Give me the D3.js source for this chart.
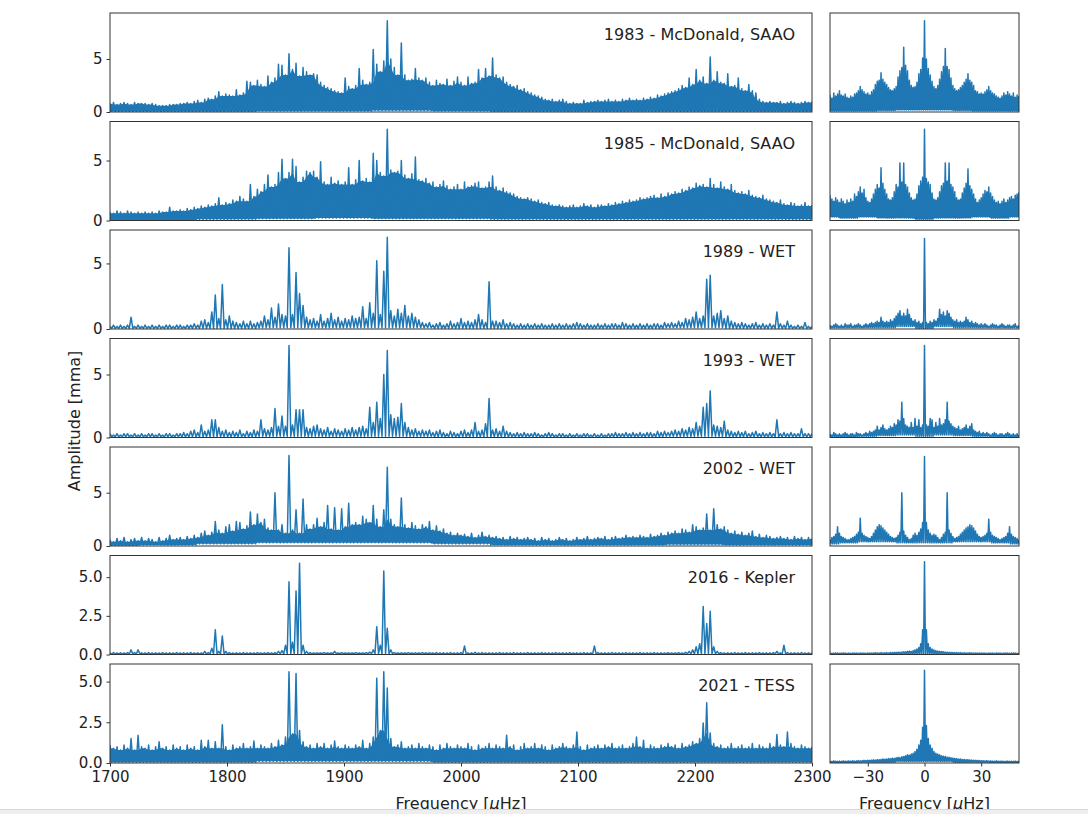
<!DOCTYPE html>
<html><head><meta charset="utf-8">
<script src="https://cdn.jsdelivr.net/npm/d3@7"></script>
<style>body{margin:0;background:#fff}svg{display:block}text{font-family:"DejaVu Sans",sans-serif}</style>
</head><body><svg id="c" width="1088" height="814"></svg>
<script>
// ---------- DATA ----------
const panelLabels = ["1983 - McDonald, SAAO","1985 - McDonald, SAAO","1989 - WET","1993 - WET","2002 - WET","2016 - Kepler","2021 - TESS"];
// left column frequency grid (µHz)
const freqStart = 1700, freqStep = 3, freqEnd = 2300;
const floorStep = 50; // lower envelope of trace given every 50 µHz
const xTicksLeft = [1700,1800,1900,2000,2100,2200,2300];
const xTicksRight = [-30,0,30];
const yTicksA = [0,5];
const yTicksB = [0,2.5,5];

const amp1983 = [
0.8,0.9,0.7,0.8,0.9,0.8,0.7,0.9,0.8,0.8, 0.8,0.7,0.8,0.7,0.6,0.6,0.6,0.7,0.7,0.7,
0.8,0.8,0.9,0.8,1.0,1.1,0.9,1.2,1.3,1.2, 1.5,1.9,1.5,1.7,1.6,1.5,2.1,1.6,1.8,2.9,
2.8,2.5,3.0,2.6,2.4,3.4,2.8,3.2,4.5,4.4, 3.5,5.5,4.0,4.6,3.4,4.2,3.8,3.5,3.6,3.5,
2.8,2.5,2.3,2.2,2.0,1.9,1.8,3.2,2.4,2.2, 2.5,4.1,3.0,2.6,2.8,5.9,4.5,3.8,4.8,8.6,
5.0,4.2,3.5,6.5,3.5,3.0,3.1,4.1,3.2,3.0, 3.2,2.8,2.5,3.0,2.7,2.6,3.1,2.5,2.9,3.3,
2.8,2.5,3.3,2.7,2.8,4.0,3.2,4.1,3.4,5.1, 3.5,3.2,3.3,2.8,2.6,2.4,2.5,2.1,2.2,1.9,
1.8,1.6,1.5,1.4,1.2,1.1,1.2,1.0,1.1,1.2, 1.0,0.8,0.9,0.8,0.8,1.1,0.9,1.0,1.0,1.1,
1.0,1.1,1.2,1.0,1.1,1.0,1.2,1.1,1.3,1.1, 1.2,1.1,1.3,1.2,1.4,1.3,1.6,1.5,1.7,1.8,
1.9,2.0,2.2,2.5,2.3,3.2,2.6,4.0,3.0,3.3, 2.7,5.2,3.0,3.8,2.8,2.7,3.6,2.4,2.5,3.2,
2.2,2.0,2.6,2.0,1.8,1.2,1.0,0.9,1.0,0.9, 0.9,1.0,0.8,0.9,1.0,0.9,0.8,0.9,1.0,0.9,
1.0];
const amp1985 = [
0.7,0.6,0.8,0.7,0.6,0.8,0.7,0.6,0.7,0.6, 0.7,0.6,0.7,0.6,0.8,0.7,0.7,1.1,0.8,0.8,
0.9,0.8,1.0,0.9,1.1,1.0,1.2,1.1,1.3,1.2, 1.4,1.9,1.3,1.5,1.4,1.7,1.6,2.0,1.8,1.6,
3.0,2.0,2.6,2.4,3.0,3.8,2.8,3.0,4.0,5.1, 3.5,4.0,5.1,4.5,3.2,3.6,4.1,4.0,4.1,3.6,
4.9,3.2,3.0,3.6,3.1,3.3,3.0,3.2,4.4,3.0, 3.4,5.0,3.3,3.5,3.2,5.6,5.0,4.0,3.7,7.6,
4.2,4.0,4.1,5.0,3.8,3.5,3.9,5.3,3.4,3.3, 3.5,3.1,3.2,2.8,3.0,3.3,2.9,2.6,2.8,3.0,
2.6,3.2,2.8,2.9,3.1,3.2,2.7,2.8,3.2,3.7, 2.8,2.5,2.7,2.4,2.3,2.2,2.0,1.9,1.8,1.9,
1.8,1.6,1.7,1.5,1.4,1.5,1.3,1.2,1.3,1.2, 1.1,1.2,1.3,1.1,1.2,1.4,1.2,1.3,1.1,1.3,
1.3,1.2,1.4,1.3,1.5,1.4,1.6,1.5,1.7,1.6, 1.7,1.9,1.8,1.9,2.0,2.1,1.9,2.2,2.0,2.3,
2.2,2.4,2.3,2.6,2.5,2.8,2.7,3.1,2.9,3.0, 2.8,3.5,3.0,2.7,3.2,2.8,2.6,3.0,2.5,2.3,
2.4,2.2,2.5,2.1,2.0,1.9,2.1,1.8,1.7,1.6, 1.5,1.7,1.4,1.3,1.5,1.4,1.2,1.3,1.5,1.2,
1.3];
const amp1989 = [
0.2,0.3,0.2,0.3,0.2,0.3,0.9,0.2,0.3,0.2, 0.3,0.2,0.3,0.2,0.3,0.2,0.3,0.3,0.2,0.3,
0.3,0.2,0.3,0.3,0.4,0.3,0.6,0.7,0.5,1.3, 2.6,0.8,3.4,0.7,1.0,0.6,0.5,0.4,0.6,0.4,
0.6,0.4,0.5,0.6,1.0,0.7,1.6,0.9,1.9,1.1, 1.0,6.2,1.1,4.3,2.7,1.8,0.9,0.7,0.8,0.6,
1.1,0.6,0.8,1.2,0.7,0.9,0.6,0.8,0.7,1.0, 0.8,0.9,1.7,0.8,2.0,1.2,5.2,1.1,4.4,7.0,
1.4,1.0,1.5,1.2,1.8,1.0,1.2,0.9,0.7,0.5, 0.4,0.5,0.3,0.4,0.5,0.3,0.4,0.6,0.4,0.5,
0.8,0.5,0.6,0.5,0.7,1.1,0.7,0.5,3.6,0.6, 0.6,0.5,0.7,0.4,0.5,0.4,0.3,0.4,0.3,0.4,
0.3,0.4,0.3,0.4,0.3,0.3,0.4,0.3,0.4,0.3, 0.4,0.3,0.4,0.5,0.4,0.3,0.4,0.3,0.3,0.4,
0.3,0.4,0.3,0.4,0.4,0.3,0.5,0.4,0.3,0.4, 0.3,0.4,0.3,0.4,0.3,0.4,0.4,0.3,0.5,0.4,
0.5,0.4,0.6,0.5,0.8,0.7,0.9,1.3,0.8,1.0, 3.8,4.1,1.0,1.2,1.4,0.8,1.0,0.6,0.5,0.4,
0.5,0.4,0.3,0.4,0.5,0.3,0.4,0.3,0.4,0.3, 1.3,0.4,0.3,0.6,0.3,0.2,0.3,0.2,0.5,0.2,
0.2];
const amp1993 = [
0.3,0.2,0.3,0.2,0.3,0.3,0.2,0.3,0.2,0.3, 0.2,0.3,0.3,0.2,0.3,0.2,0.3,0.3,0.2,0.3,
0.3,0.4,0.3,0.5,0.6,0.4,1.0,0.5,0.6,1.4, 1.4,0.8,0.5,0.6,0.4,0.5,0.4,0.6,0.3,0.5,
0.4,0.6,0.5,1.4,0.7,0.6,0.8,2.3,0.9,1.7, 0.9,7.3,1.0,2.2,2.2,2.2,0.8,0.7,0.9,1.0,
0.7,0.6,0.8,0.5,0.7,0.6,0.5,0.7,0.6,0.8, 0.6,0.8,0.9,0.7,2.4,1.2,2.8,1.5,5.0,6.9,
1.8,1.5,1.6,2.7,1.2,0.8,0.6,0.7,0.5,0.6, 0.5,0.6,0.4,0.5,0.6,0.4,0.3,0.5,0.4,0.3,
0.5,0.6,0.4,0.6,1.2,0.5,0.6,1.1,3.1,0.6, 0.7,0.5,0.9,0.5,0.4,0.3,0.4,0.3,0.4,0.3,
0.3,0.4,0.3,0.2,0.3,0.4,0.3,0.2,0.3,0.3, 0.2,0.3,0.2,0.3,0.2,0.3,0.3,0.2,0.3,0.2,
0.3,0.2,0.3,0.3,0.4,0.3,0.3,0.4,0.3,0.4, 0.3,0.4,0.3,0.4,0.4,0.3,0.5,0.4,0.5,0.4,
0.5,0.6,0.5,0.7,0.6,0.8,0.7,1.2,0.9,2.4, 2.7,3.7,1.0,0.9,0.8,1.3,0.6,0.5,0.4,0.5,
0.4,0.5,0.3,0.4,0.5,0.3,0.4,0.3,0.4,0.3, 1.4,0.3,0.4,0.3,0.4,0.3,0.3,0.7,0.3,0.3,
0.3];
const amp2002 = [
0.6,0.4,0.7,0.5,0.8,0.4,0.6,0.7,0.5,0.8, 0.5,0.7,0.6,0.4,0.8,0.5,0.7,1.0,0.6,0.7,
0.8,0.6,0.9,0.7,1.0,0.8,1.2,1.4,1.0,1.3, 2.3,1.5,1.2,1.8,2.0,1.4,2.3,2.2,1.6,1.9,
3.2,2.0,3.0,2.2,2.5,1.7,1.5,5.0,1.5,2.0, 1.2,8.5,1.5,3.4,1.2,4.4,2.0,1.6,2.0,2.6,
1.8,2.2,3.8,1.6,3.6,1.5,3.5,1.8,4.0,2.0, 2.2,2.0,2.8,2.5,2.2,3.8,2.5,1.8,3.4,7.4,
2.5,2.0,1.8,4.5,2.0,1.7,2.2,1.9,1.6,2.0, 1.8,2.3,1.5,1.9,1.4,1.6,1.2,1.3,1.0,1.2,
1.0,1.1,0.9,1.2,0.8,1.0,1.3,0.9,1.0,0.8, 0.9,0.7,0.8,0.6,0.9,0.7,0.8,0.6,0.7,0.8,
0.6,0.7,0.5,0.8,0.6,0.7,0.5,0.6,0.8,0.6, 0.7,0.5,0.6,0.8,0.6,0.7,0.9,0.6,0.7,0.8,
0.7,0.9,0.6,0.8,0.9,0.7,0.8,1.0,0.8,0.9, 0.8,1.0,0.9,0.8,1.1,0.9,1.0,1.2,1.0,1.3,
1.2,1.4,1.2,1.6,1.5,1.3,2.0,1.8,1.5,1.7, 3.0,1.5,3.5,2.0,1.6,1.8,1.5,1.2,1.4,1.1,
1.3,1.0,1.2,1.4,0.9,1.1,0.8,1.0,0.9,0.7, 0.8,0.9,0.7,0.8,0.6,0.9,0.7,0.8,0.6,0.8,
0.7];
const amp2016 = [
0.1,0.12,0.1,0.11,0.1,0.12,0.3,0.12,0.3,0.11, 0.1,0.12,0.1,0.11,0.1,0.12,0.1,0.11,0.1,0.12,
0.1,0.11,0.1,0.12,0.1,0.11,0.1,0.2,0.12,0.4, 1.6,0.2,1.2,0.2,0.12,0.1,0.11,0.1,0.12,0.1,
0.11,0.1,0.12,0.1,0.11,0.12,0.1,0.12,0.2,0.25, 0.6,4.7,0.8,4.1,5.9,0.6,0.2,0.12,0.1,0.11,
0.1,0.12,0.1,0.11,0.2,0.1,0.12,0.1,0.11,0.1, 0.12,0.1,0.11,0.12,0.15,0.3,1.8,0.6,5.4,1.7,
0.3,0.12,0.1,0.11,0.1,0.12,0.1,0.11,0.1,0.12, 0.1,0.11,0.1,0.12,0.1,0.11,0.1,0.12,0.1,0.11,
0.12,0.55,0.1,0.11,0.15,0.1,0.12,0.1,0.11,0.1, 0.1,0.12,0.1,0.11,0.1,0.12,0.1,0.11,0.1,0.12,
0.1,0.11,0.1,0.12,0.1,0.11,0.1,0.12,0.1,0.11, 0.1,0.12,0.1,0.11,0.1,0.12,0.1,0.11,0.55,0.12,
0.1,0.11,0.1,0.12,0.1,0.11,0.1,0.12,0.1,0.11, 0.1,0.12,0.1,0.11,0.1,0.12,0.1,0.11,0.1,0.12,
0.1,0.11,0.12,0.1,0.15,0.2,0.3,0.5,0.7,3.1, 2.0,2.8,0.5,0.2,0.12,0.1,0.11,0.1,0.12,0.1,
0.1,0.12,0.1,0.11,0.1,0.12,0.1,0.11,0.1,0.12, 0.2,0.11,0.6,0.12,0.1,0.11,0.1,0.12,0.1,0.11,
0.1];
const amp2021 = [
1.1,0.9,1.0,0.8,1.1,0.9,1.5,0.8,1.7,1.0, 0.9,1.1,0.8,1.0,1.3,0.9,1.0,0.8,1.1,0.9,
1.0,0.8,1.1,0.9,1.0,0.8,1.4,1.0,1.4,0.9, 1.3,0.9,2.35,1.0,0.8,1.1,0.9,1.0,1.2,0.9,
1.0,1.35,0.9,1.1,1.0,0.9,1.2,1.0,1.4,1.1, 1.6,5.6,1.8,5.5,2.0,1.3,1.0,1.1,0.9,1.2,
1.0,1.2,0.9,1.1,1.35,1.0,0.9,1.1,1.0,0.9, 1.1,1.0,1.4,0.9,1.2,1.6,5.2,2.0,5.6,4.6,
1.5,1.0,1.1,1.3,0.9,1.0,1.1,0.9,1.2,1.0, 0.9,1.1,1.0,0.8,1.1,0.9,1.2,1.0,0.9,1.1,
1.0,0.9,1.2,1.0,0.8,1.1,0.9,1.0,1.2,0.9, 1.1,1.0,0.9,1.7,1.0,1.1,0.8,1.0,1.2,0.9,
1.0,1.2,0.9,1.1,1.0,0.8,1.1,0.9,1.0,1.2, 1.0,0.9,1.1,1.9,1.0,0.8,1.1,0.9,1.0,1.1,
0.9,1.1,1.0,1.2,0.9,1.0,1.1,0.9,1.0,1.2, 1.6,1.0,1.4,0.9,1.1,1.0,0.9,1.1,1.0,1.2,
1.0,1.1,0.9,1.2,1.0,1.1,1.3,1.2,1.5,2.45, 3.7,1.85,1.2,1.0,1.1,0.9,1.0,1.2,0.9,1.0,
1.1,0.9,1.0,1.2,0.9,1.1,1.0,0.9,1.2,1.0, 1.75,1.1,1.0,1.9,1.2,1.0,0.9,1.1,1.0,0.9,
1.0];
// lower edge of the trace, every 50 µHz from 1700 to 2300
const floor1983 = [0.05,0.05,0.05,0.1,0.1,0.15,0.1,0.05,0.05,0.05,0.05,0.05,0.05];
const floor1985 = [0.05,0.05,0.1,0.15,0.2,0.15,0.15,0.1,0.1,0.1,0.1,0.1,0.1];
const floor1989 = [0.05,0.05,0.05,0.1,0.1,0.1,0.05,0.05,0.05,0.05,0.1,0.05,0.05];
const floor1993 = [0.05,0.05,0.05,0.1,0.1,0.1,0.05,0.05,0.05,0.05,0.1,0.05,0.05];
const floor2002 = [0.05,0.1,0.2,0.3,0.3,0.3,0.2,0.1,0.1,0.1,0.15,0.1,0.1];
const floor2016 = [0.03,0.03,0.03,0.04,0.05,0.05,0.03,0.03,0.03,0.03,0.04,0.03,0.03];
const floor2021 = [0.05,0.05,0.05,0.1,0.1,0.1,0.05,0.05,0.05,0.05,0.05,0.05,0.05];

// right column: spectral windows, offset frequency grid -50..50 µHz
const winStart = -50, winStep = 1, winEnd = 50;
const winFloorStep = 10;
const win1983 = [
1.6,1.3,1.8,1.5,1.7,2.0,1.6,1.5,1.7,1.4, 1.3,1.5,1.4,1.7,1.8,2.0,2.4,2.1,1.9,1.7,
1.8,1.6,1.9,2.1,2.6,2.9,3.0,3.7,3.1,2.8, 2.6,2.3,2.1,2.0,2.2,2.4,3.3,3.9,4.2,6.1,
4.4,3.9,3.0,2.5,2.3,2.4,2.8,3.6,4.0,5.1, 8.6,
5.0,4.1,3.5,2.9,2.4,2.2,2.5,3.1,3.8,4.3, 6.0,4.3,4.0,3.2,2.5,2.2,2.0,2.1,2.3,2.5,
2.8,3.1,3.6,3.0,2.8,2.5,2.0,1.9,1.7,1.8, 1.7,1.9,2.1,2.4,2.0,1.8,1.7,1.5,1.4,1.3,
1.5,1.8,1.6,1.9,1.7,1.5,1.8,1.4,1.6,1.5];
const win1985 = [
2.1,1.8,1.6,1.9,1.7,1.5,1.8,1.6,1.4,1.7, 1.5,1.8,1.6,2.2,2.0,2.4,2.8,2.3,2.6,1.9,
1.6,1.5,1.8,2.2,2.6,3.0,2.7,4.4,3.1,2.6, 2.2,1.8,1.7,1.9,2.4,3.0,2.8,4.8,3.2,4.8,
3.0,2.8,2.3,1.9,1.7,1.8,2.2,2.9,3.3,3.6, 7.6,
3.5,3.2,3.0,2.3,1.8,1.7,1.9,2.4,2.9,3.1, 4.8,3.3,4.8,3.0,2.8,2.4,1.9,1.7,1.8,2.3,
2.7,3.1,4.3,2.9,2.6,2.2,1.8,1.5,1.7,1.9, 2.2,2.5,2.4,2.8,2.3,2.0,1.7,1.5,1.6,1.4,
1.6,1.8,1.5,1.7,1.9,2.0,1.8,2.1,2.2,2.4];
const win1989 = [
0.3,0.2,0.3,0.4,0.3,0.2,0.3,0.2,0.4,0.3, 0.3,0.4,0.2,0.3,0.3,0.4,0.3,0.2,0.3,0.4,
0.3,0.4,0.5,0.4,0.5,0.6,0.5,0.9,0.6,0.5, 0.6,0.5,0.7,0.6,0.8,1.0,1.2,1.4,1.0,1.2,
1.0,1.5,1.1,0.8,0.6,0.7,0.5,0.6,0.4,0.5, 6.9,
0.5,0.4,0.6,0.5,0.7,0.6,0.8,1.5,1.1,1.3, 1.0,1.4,1.2,0.9,0.7,0.6,0.7,0.5,0.6,0.5,
0.6,0.9,0.7,0.5,0.6,0.4,0.5,0.4,0.3,0.4, 0.3,0.4,0.3,0.2,0.3,0.4,0.3,0.3,0.2,0.3,
0.4,0.3,0.2,0.3,0.3,0.2,0.3,0.4,0.2,0.3];
const win1993 = [
0.3,0.2,0.4,0.3,0.2,0.3,0.2,0.3,0.4,0.3, 0.2,0.3,0.3,0.2,0.4,0.3,0.3,0.2,0.3,0.4,
0.3,0.5,0.4,0.5,0.6,0.9,0.6,0.8,1.0,0.7, 0.6,0.7,0.9,0.8,1.1,1.0,1.4,1.3,2.8,1.5,
1.0,0.9,0.8,1.2,0.8,1.5,0.9,1.4,0.8,1.0, 7.3,
1.0,0.9,1.5,1.4,0.8,1.2,0.9,1.5,1.0,1.1, 1.4,2.8,1.3,1.1,0.9,0.8,0.7,0.9,0.6,0.7,
0.8,1.0,0.7,0.9,1.1,0.6,0.5,0.4,0.5,0.3, 0.4,0.3,0.4,0.3,0.2,0.3,0.4,0.3,0.2,0.3,
0.3,0.2,0.3,0.4,0.3,0.2,0.3,0.2,0.3,0.2];
const win2002 = [
0.6,0.8,0.9,1.1,1.8,1.2,0.9,0.8,0.7,0.6, 0.6,0.7,0.8,0.9,1.1,1.3,2.6,1.2,1.0,0.9,
0.8,0.7,0.9,1.2,1.5,1.8,2.0,1.9,1.7,1.5, 1.3,1.1,0.9,0.8,0.7,0.8,1.0,1.3,5.0,1.4,
1.0,0.8,0.6,0.7,1.0,1.2,1.0,1.3,1.6,2.2, 8.4,
2.2,1.5,1.2,1.0,1.1,1.0,0.8,0.6,0.8,1.1, 1.3,5.0,1.5,1.2,0.9,0.7,0.8,0.9,1.1,1.3,
1.5,1.7,1.8,2.0,1.9,1.7,1.4,1.1,0.9,0.8, 0.9,1.0,1.2,2.5,1.3,1.0,0.9,0.8,0.7,0.6,
0.7,0.8,0.9,1.2,1.8,1.1,0.9,0.8,0.7,0.6];
const win2016 = [
0.1,0.08,0.1,0.09,0.1,0.08,0.1,0.09,0.1,0.08, 0.1,0.08,0.1,0.09,0.1,0.08,0.1,0.09,0.1,0.08,
0.1,0.09,0.1,0.1,0.11,0.1,0.1,0.12,0.1,0.11, 0.12,0.1,0.13,0.12,0.14,0.13,0.15,0.14,0.16,0.18,
0.18,0.2,0.22,0.2,0.25,0.3,0.35,0.45,0.7,1.6, 6.0,
1.6,0.7,0.45,0.35,0.3,0.25,0.22,0.2,0.2,0.18, 0.16,0.15,0.14,0.14,0.13,0.12,0.12,0.11,0.12,0.1,
0.11,0.1,0.1,0.11,0.1,0.09,0.1,0.1,0.09,0.1, 0.09,0.1,0.08,0.1,0.09,0.1,0.08,0.1,0.09,0.1,
0.08,0.1,0.09,0.1,0.08,0.1,0.09,0.1,0.08,0.1];
const win2021 = [
0.12,0.1,0.13,0.11,0.1,0.12,0.1,0.13,0.11,0.12, 0.13,0.11,0.14,0.12,0.13,0.15,0.13,0.14,0.16,0.15,
0.17,0.16,0.18,0.2,0.18,0.21,0.2,0.22,0.24,0.23, 0.25,0.27,0.26,0.3,0.28,0.32,0.35,0.33,0.38,0.4,
0.45,0.5,0.48,0.55,0.6,0.7,0.85,1.1,1.4,2.2, 5.7,
2.3,1.5,1.1,0.9,0.7,0.6,0.55,0.5,0.45,0.42, 0.4,0.36,0.35,0.32,0.3,0.28,0.27,0.25,0.24,0.22,
0.22,0.2,0.21,0.19,0.18,0.17,0.16,0.16,0.15,0.14, 0.14,0.13,0.15,0.12,0.13,0.12,0.11,0.13,0.12,0.11,
0.12,0.1,0.11,0.12,0.1,0.11,0.1,0.12,0.1,0.11];
// lower edge of window traces, every 10 µHz from -50 to 50
const winFloor1983 = [0.1,0.1,0.1,0.15,0.2,0.2,0.2,0.15,0.1,0.1,0.1];
const winFloor1985 = [0.3,0.2,0.3,0.2,0.2,0.1,0.2,0.2,0.3,0.2,0.3];
const winFloor1989 = [0.1,0.1,0.1,0.1,0.2,0.05,0.2,0.1,0.1,0.1,0.1];
const winFloor1993 = [0.05,0.05,0.1,0.15,0.2,0.1,0.2,0.15,0.1,0.05,0.05];
const winFloor2002 = [0.2,0.3,0.4,0.4,0.3,0.3,0.3,0.4,0.4,0.3,0.2];
const winFloor2016 = [0.03,0.03,0.03,0.04,0.05,0.05,0.05,0.04,0.03,0.03,0.03];
const winFloor2021 = [0.03,0.03,0.05,0.05,0.1,0.1,0.1,0.05,0.05,0.03,0.03];

// ---------- LAYOUT ----------
// dense: the unresolved trace reads as a solid body under its narrow spikes
const panels = [
 {label:panelLabels[0], amp:amp1983, fl:floor1983, win:win1983, wfl:winFloor1983, ymax:9.34, ticks:yTicksA, fmt:d3.format("d"), denseL:true, denseR:true},
 {label:panelLabels[1], amp:amp1985, fl:floor1985, win:win1985, wfl:winFloor1985, ymax:8.25, ticks:yTicksA, fmt:d3.format("d"), denseL:true, denseR:true},
 {label:panelLabels[2], amp:amp1989, fl:floor1989, win:win1989, wfl:winFloor1989, ymax:7.55, ticks:yTicksA, fmt:d3.format("d"), denseL:false, denseR:false},
 {label:panelLabels[3], amp:amp1993, fl:floor1993, win:win1993, wfl:winFloor1993, ymax:7.86, ticks:yTicksA, fmt:d3.format("d"), denseL:false, denseR:false},
 {label:panelLabels[4], amp:amp2002, fl:floor2002, win:win2002, wfl:winFloor2002, ymax:9.29, ticks:yTicksA, fmt:d3.format("d"), denseL:true, denseR:false},
 {label:panelLabels[5], amp:amp2016, fl:floor2016, win:win2016, wfl:winFloor2016, ymax:6.4, ticks:yTicksB, fmt:d3.format(".1f"), denseL:false, denseR:false},
 {label:panelLabels[6], amp:amp2021, fl:floor2021, win:win2021, wfl:winFloor2021, ymax:6.08, ticks:yTicksB, fmt:d3.format(".1f"), denseL:true, denseR:true}
];
const LX0=110, LX1=812, RX0=830, RX1=1019, TOP0=13, ROWSTEP=108.5, ROWH=99;
const blue="#1f77b4", spine="#333", txt="#222";

const svg = d3.select("#c");
const xL = d3.scaleLinear().domain([freqStart,freqEnd]).range([LX0,LX1]);
const xR = d3.scaleLinear().domain([winStart,winEnd]).range([RX0,RX1]);
const freqs = d3.range(freqStart, freqEnd + freqStep/2, freqStep);
const offs = d3.range(winStart, winEnd + winStep/2, winStep);

function floorAt(fl,f,f0,fStep){
  const k=Math.max(0,Math.min(fl.length-1,Math.round((f-f0)/fStep)));
  return fl[k];
}
// trace: upper values at grid points, lower edge between them
function trace(xs, ys, fl, f0, fStep){
  const pts=[];
  for(let i=0;i<xs.length;i++){
    pts.push([xs[i], ys[i]]);
    if(i<xs.length-1){
      const xm=(xs[i]+xs[i+1])/2;
      pts.push([xm, floorAt(fl,xm,f0,fStep)]);
    }
  }
  return pts;
}

panels.forEach((p,i)=>{
  const top = TOP0 + i*ROWSTEP, bot = top + ROWH;
  const y = d3.scaleLinear().domain([0,p.ymax]).range([bot,top]);
  [["L",xL,freqs,p.amp,p.fl,freqStart,floorStep,LX0,LX1,p.denseL],["R",xR,offs,p.win,p.wfl,winStart,winFloorStep,RX0,RX1,p.denseR]].forEach(([side,x,xs,ys,fl,f0,fs,a,b,dense])=>{
    const id="clip"+side+i;
    svg.append("clipPath").attr("id",id).append("rect").attr("x",a).attr("y",top).attr("width",b-a).attr("height",ROWH);
    const g = svg.append("g").attr("clip-path",`url(#${id})`);
    if(dense){
      // solid body: what every neighbouring sample reaches
      const rows = xs.map((f,k)=>{
        const lo = floorAt(fl,f,f0,fs);
        const body = Math.min(ys[k], k>0?ys[k-1]:ys[k], k<ys.length-1?ys[k+1]:ys[k]);
        return {f, lo, body:Math.max(lo,body)};
      });
      g.append("path").attr("d", d3.area().x(d=>x(d.f)).y0(d=>y(d.lo)).y1(d=>y(d.body))(rows))
        .attr("fill",blue).attr("stroke","none");
    }
    const line=d3.line().x(d=>x(d[0])).y(d=>y(d[1]));
    g.append("path").attr("d",line(trace(xs,ys,fl,f0,fs)))
      .attr("fill","none").attr("stroke",blue).attr("stroke-width",1.5).attr("stroke-linejoin","round");
    svg.append("rect").attr("x",a).attr("y",top).attr("width",b-a).attr("height",ROWH)
      .attr("fill","none").attr("stroke",spine).attr("stroke-width",1);
  });
  // y axis
  const ga = svg.append("g").attr("transform",`translate(${LX0},0)`)
    .call(d3.axisLeft(y).tickValues(p.ticks).tickFormat(p.fmt).tickSize(3.5).tickPadding(4));
  ga.select(".domain").remove();
  ga.selectAll("line").attr("stroke",spine);
  ga.selectAll("text").attr("font-size",15).attr("fill",txt).attr("font-family","DejaVu Sans");
  // label
  svg.append("text").attr("x",795).attr("y",top+27).attr("text-anchor","end")
    .attr("font-size",16).attr("fill",txt).text(p.label);
  if(i===panels.length-1){
    const gb = svg.append("g").attr("transform",`translate(0,${bot})`)
      .call(d3.axisBottom(xL).tickValues(xTicksLeft).tickFormat(d3.format("d")).tickSize(3.5).tickPadding(4.5));
    const gc = svg.append("g").attr("transform",`translate(0,${bot})`)
      .call(d3.axisBottom(xR).tickValues(xTicksRight).tickFormat(d3.format("d")).tickSize(3.5).tickPadding(4.5));
    [gb,gc].forEach(g=>{g.select(".domain").remove();g.selectAll("line").attr("stroke",spine);
      g.selectAll("text").attr("font-size",15).attr("fill",txt).attr("font-family","DejaVu Sans");});
  }
});

// axis titles
[(LX0+LX1)/2,(RX0+RX1)/2].forEach(cx=>{
  const t = svg.append("text").attr("x",cx).attr("y",809).attr("text-anchor","middle").attr("font-size",16).attr("fill",txt);
  t.append("tspan").text("Frequency [");
  t.append("tspan").attr("font-style","italic").text("μ");
  t.append("tspan").text("Hz]");
});
svg.append("text").attr("transform","translate(80,421) rotate(-90)").attr("text-anchor","middle")
  .attr("font-size",16).attr("fill",txt).text("Amplitude [mma]");
// bottom edge band of the screenshot
svg.append("rect").attr("x",0).attr("y",809).attr("width",1088).attr("height",5).attr("fill","#eeeeee");
svg.append("line").attr("x1",0).attr("x2",1088).attr("y1",809.5).attr("y2",809.5).attr("stroke","#d8d8d8");
</script></body></html>
